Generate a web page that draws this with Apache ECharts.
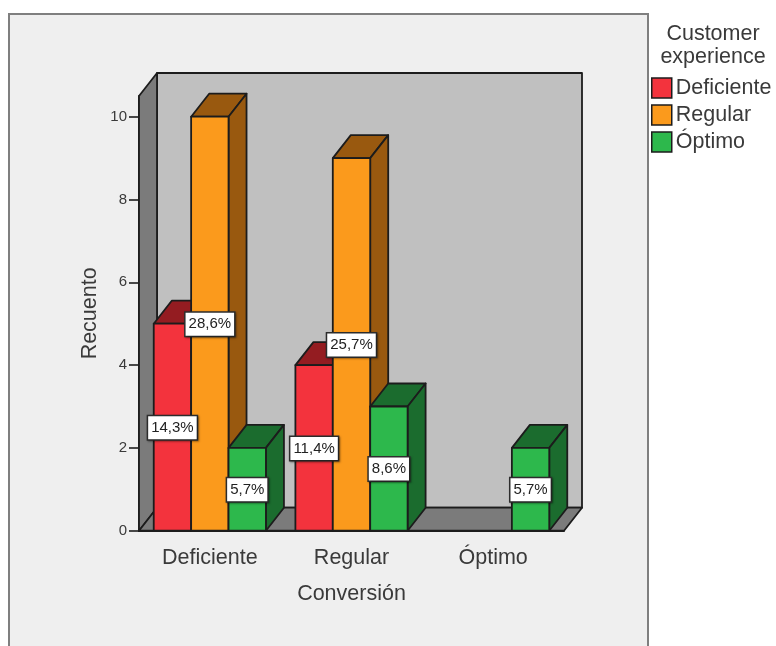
<!DOCTYPE html>
<html>
<head>
<meta charset="utf-8">
<style>html,body{margin:0;padding:0;background:#fff}#chart{width:776px;height:646px}</style>
<script src="https://cdn.jsdelivr.net/npm/echarts@6/dist/echarts.min.js"></script>
</head>
<body>
<div id="chart"></div>
<script>
const categories = ['Deficiente', 'Regular', 'Óptimo'];
const legendTitle = 'Customer\nexperience';
const xAxisTitle = 'Conversión';
const yAxisTitle = 'Recuento';
const tickValues = [0, 2, 4, 6, 8, 10];

const deficienteCounts = [5, 4, 0];
const regularCounts = [10, 9, 0];
const optimoCounts = [2, 3, 2];

const deficienteShares = ['14,3%', '11,4%', ''];
const regularShares = ['28,6%', '25,7%', ''];
const optimoShares = ['5,7%', '8,6%', '5,7%'];

const FONT = '"Liberation Sans", Arial, sans-serif';
const TEXT = '#3a3a3a';
const EDGE = '#1c1c1c';
const DEPTH_X = 18;
const DEPTH_Y = 23;
const BAR_SHARE = 0.264;

const groups = [
  { name: 'Deficiente', counts: deficienteCounts, shares: deficienteShares, slot: -1, front: '#f3333d', dark: '#941c21' },
  { name: 'Regular', counts: regularCounts, shares: regularShares, slot: 0, front: '#fb9a1c', dark: '#99590f' },
  { name: 'Óptimo', counts: optimoCounts, shares: optimoShares, slot: 1, front: '#2db84c', dark: '#1b6c2e' }
];

// The bar's front face, top and right side share one extrusion offset.
function renderBar(group) {
  return function (params, api) {
    const value = api.value(1);
    if (!value) return null;
    const band = api.size([1, 0])[0];
    const width = band * BAR_SHARE;
    const base = api.coord([api.value(0), 0]);
    const top = api.coord([api.value(0), value]);
    const x0 = base[0] + (group.slot - 0.5) * width;
    const x1 = x0 + width;
    const y0 = base[1];
    const y1 = top[1];
    const edge = { stroke: EDGE, lineWidth: 1.8, lineJoin: 'round' };
    const poly = function (points, fill) {
      return { type: 'polygon', shape: { points: points }, style: Object.assign({ fill: fill }, edge) };
    };
    return {
      type: 'group',
      children: [
        poly([[x0, y1], [x0 + DEPTH_X, y1 - DEPTH_Y], [x1 + DEPTH_X, y1 - DEPTH_Y], [x1, y1]], group.dark),
        poly([[x1, y1], [x1 + DEPTH_X, y1 - DEPTH_Y], [x1 + DEPTH_X, y0 - DEPTH_Y], [x1, y0]], group.dark),
        poly([[x0, y1], [x1, y1], [x1, y0], [x0, y0]], group.front)
      ]
    };
  };
}

// Percentage tags sit on the middle of each front face, above every bar.
function renderShare(params, api) {
  const idx = params.dataIndex;
  const entry = shareRows[idx];
  const band = api.size([1, 0])[0];
  const point = api.coord([entry[0], entry[1] / 2]);
  return {
    type: 'text',
    x: point[0] + entry[2] * band * BAR_SHARE,
    y: point[1] + 0.5,
    style: {
      text: entry[3],
      fontFamily: FONT,
      fontSize: 15,
      fill: '#222222',
      align: 'center',
      verticalAlign: 'middle',
      backgroundColor: '#ffffff',
      borderColor: '#2e2e2e',
      borderWidth: 1.5,
      padding: [4, 3, 4, 3],
      shadowColor: 'rgba(0,0,0,0.35)',
      shadowBlur: 2,
      shadowOffsetX: 1,
      shadowOffsetY: 1
    }
  };
}

// Back wall, side wall and floor of the plot box.
function renderWalls(params) {
  const c = params.coordSys;
  const l = c.x, r = c.x + c.width, t = c.y, b = c.y + c.height;
  const edge = { stroke: EDGE, lineWidth: 1.8, lineJoin: 'round' };
  const poly = function (points, fill) {
    return { type: 'polygon', shape: { points: points }, style: Object.assign({ fill: fill }, edge) };
  };
  return {
    type: 'group',
    children: [
      poly([[l + DEPTH_X, t - DEPTH_Y], [r + DEPTH_X, t - DEPTH_Y], [r + DEPTH_X, b - DEPTH_Y], [l + DEPTH_X, b - DEPTH_Y]], '#c0c0c0'),
      poly([[l, t], [l + DEPTH_X, t - DEPTH_Y], [l + DEPTH_X, b - DEPTH_Y], [l, b]], '#7b7b7b'),
      poly([[l, b], [l + DEPTH_X, b - DEPTH_Y], [r + DEPTH_X, b - DEPTH_Y], [r, b]], '#7b7b7b')
    ]
  };
}

const shareRows = [];
groups.forEach(function (group) {
  group.counts.forEach(function (count, i) {
    if (count) shareRows.push([i, count, group.slot, group.shares[i]]);
  });
});

const chart = echarts.init(document.getElementById('chart'), null, { renderer: 'canvas' });
chart.setOption({
  animation: false,
  backgroundColor: '#ffffff',
  graphic: [{
    type: 'rect',
    z: -10,
    shape: { x: 9, y: 14, width: 639, height: 650 },
    style: { fill: '#efefef', stroke: '#7f7f7f', lineWidth: 2 },
    silent: true
  }],
  title: {
    text: legendTitle,
    left: 708,
    top: 18,
    textAlign: 'center',
    textStyle: { fontFamily: FONT, fontSize: 21.5, fontWeight: 'normal', color: TEXT, lineHeight: 23 }
  },
  legend: {
    orient: 'vertical',
    left: 646,
    top: 72,
    itemWidth: 20,
    itemHeight: 20,
    itemGap: 5,
    selectedMode: false,
    textStyle: { fontFamily: FONT, fontSize: 21.5, color: TEXT, padding: [0, 0, 0, -1] },
    itemStyle: { borderColor: EDGE, borderWidth: 1.5 },
    data: groups.map(function (g) { return { name: g.name, icon: 'rect' }; })
  },
  grid: { left: 139, right: 212, top: 96, bottom: 115.3, containLabel: false },
  xAxis: {
    type: 'category',
    data: categories,
    name: xAxisTitle,
    nameLocation: 'middle',
    nameGap: 52,
    nameMoveOverlap: false,
    nameTextStyle: { fontFamily: FONT, fontSize: 21.5, color: TEXT },
    axisLine: { lineStyle: { color: EDGE, width: 1.8 } },
    axisTick: { alignWithLabel: true, length: 13, lineStyle: { color: EDGE, width: 1.6 } },
    axisLabel: { fontFamily: FONT, fontSize: 21.5, color: TEXT, margin: 16, interval: 0 }
  },
  yAxis: {
    type: 'value',
    min: 0,
    max: 10.5,
    name: yAxisTitle,
    nameLocation: 'middle',
    nameGap: 38,
    nameMoveOverlap: false,
    nameTextStyle: { fontFamily: FONT, fontSize: 21.5, color: TEXT },
    splitLine: { show: false },
    axisLine: { show: true, lineStyle: { color: EDGE, width: 1.8 } },
    axisTick: { show: true, length: 10, customValues: tickValues, lineStyle: { color: EDGE, width: 1.6 } },
    axisLabel: { fontFamily: FONT, fontSize: 15, color: TEXT, margin: 12, customValues: tickValues }
  },
  series: [
    { type: 'custom', name: 'walls', z: 1, silent: true, clip: false, renderItem: renderWalls, data: [[0, 0]] }
  ].concat(groups.map(function (group, i) {
    return {
      type: 'custom',
      name: group.name,
      z: 2 + i,
      silent: true,
      clip: false,
      itemStyle: { color: group.front },
      renderItem: renderBar(group),
      encode: { x: 0, y: 1 },
      data: group.counts.map(function (count, idx) { return [idx, count]; })
    };
  })).concat([
    {
      type: 'custom',
      name: 'shares',
      z: 10,
      silent: true,
      clip: false,
      renderItem: renderShare,
      encode: { x: 0, y: 1 },
      data: shareRows.map(function (row) { return [row[0], row[1]]; })
    }
  ])
});
</script>
</body>
</html>
